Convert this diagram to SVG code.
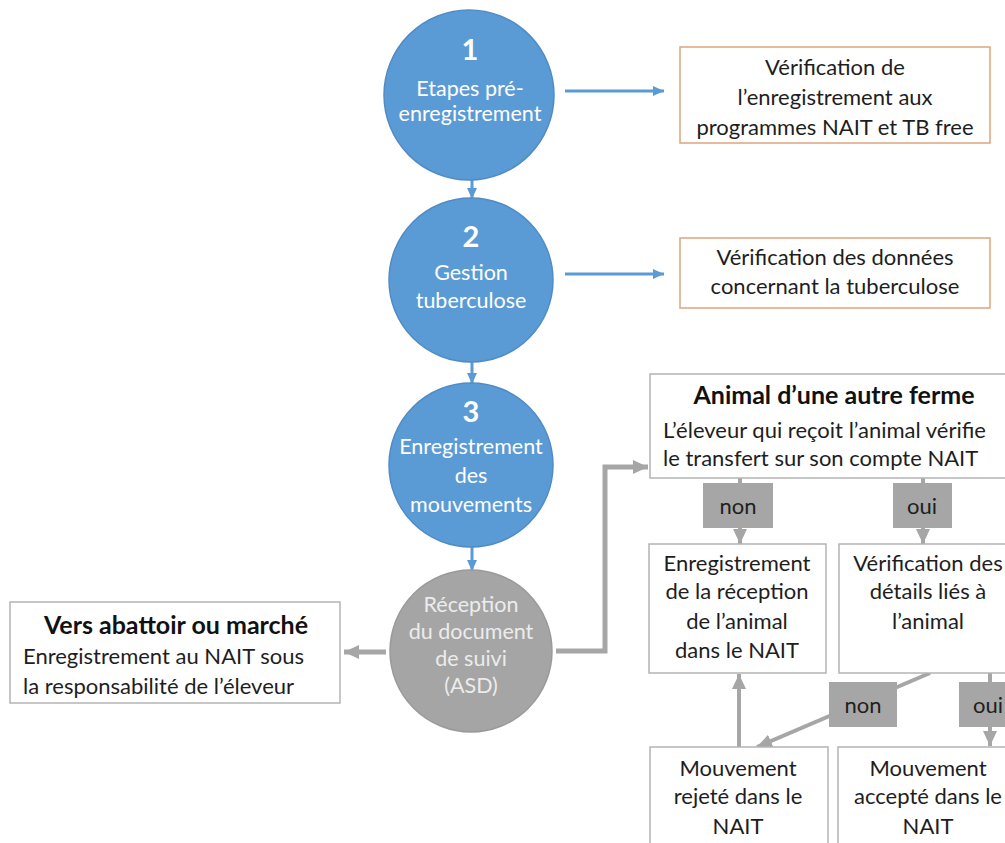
<svg xmlns="http://www.w3.org/2000/svg" width="1005" height="843" viewBox="0 0 1005 843">
  <defs>
    <marker id="blueHead" markerUnits="userSpaceOnUse" markerWidth="12" markerHeight="12" viewBox="0 0 12 12" refX="11" refY="6" orient="auto">
      <path d="M0,1 L11,6 L0,11 Z" fill="#5b9bd5"/>
    </marker>
    <marker id="grayHead" markerUnits="userSpaceOnUse" markerWidth="16" markerHeight="16" viewBox="0 0 16 16" refX="15" refY="8" orient="auto">
      <path d="M0,1 L15,8 L0,15 Z" fill="#a6a6a6"/>
    </marker>
    <style>
      text { font-family: Lato, "Liberation Sans", sans-serif; }
      .step { fill: #5b9bd5; stroke: #4f8cc6; stroke-width: 1.5; }
      .stepGray { fill: #a5a5a5; stroke: #9a9a9a; stroke-width: 1.5; }
      .num { fill: #ffffff; font-size: 29px; font-weight: bold; text-anchor: middle; }
      .ct { fill: #ffffff; font-size: 21.5px; text-anchor: middle; }
      .ctg { fill: #ececec; font-size: 21.5px; text-anchor: middle; }
      .obox { fill: #ffffff; stroke: #dea57c; stroke-width: 1.5; }
      .gbox { fill: #ffffff; stroke: #b4b4b4; stroke-width: 1.5; }
      .t { fill: #1e1e1e; font-size: 22px; }
      .tc { fill: #1e1e1e; font-size: 22px; text-anchor: middle; }
      .tb { fill: #111111; font-size: 25px; font-weight: bold; text-anchor: middle; }
      .lab { fill: #a6a6a6; }
      .labt { fill: #1e1e1e; font-size: 22px; text-anchor: middle; }
      .blue { stroke: #5b9bd5; stroke-width: 3; fill: none; }
      .gray { stroke: #a6a6a6; stroke-width: 4; fill: none; }
      .grayW { stroke: #a6a6a6; stroke-width: 5; fill: none; }
    </style>
  </defs>

  <!-- connectors -->
  <g id="connectors">
    <line class="blue" x1="472" y1="178" x2="472" y2="199" marker-end="url(#blueHead)"/>
    <line class="blue" x1="472" y1="362" x2="472" y2="384" marker-end="url(#blueHead)"/>
    <line class="blue" x1="472" y1="547" x2="472" y2="571" marker-end="url(#blueHead)"/>
    <line class="blue" x1="565" y1="91" x2="664" y2="91" marker-end="url(#blueHead)"/>
    <line class="blue" x1="565" y1="274" x2="664" y2="274" marker-end="url(#blueHead)"/>
    <line class="grayW" x1="386" y1="652" x2="344" y2="652" marker-end="url(#grayHead)"/>
    <polyline class="grayW" points="556,651 605,651 605,467 648,467" marker-end="url(#grayHead)"/>
    <line class="gray" x1="740" y1="478" x2="740" y2="544" marker-end="url(#grayHead)"/>
    <line class="gray" x1="923" y1="478" x2="923" y2="544" marker-end="url(#grayHead)"/>
    <line class="gray" x1="739" y1="747" x2="739" y2="674" marker-end="url(#grayHead)"/>
    <line class="gray" x1="930" y1="673" x2="757" y2="747" marker-end="url(#grayHead)"/>
    <line class="gray" x1="990" y1="673" x2="990" y2="746" marker-end="url(#grayHead)"/>
  </g>

  <!-- step 1 -->
  <g id="step1">
    <circle class="step" cx="469" cy="95" r="85"/>
    <text class="num" x="470" y="60">1</text>
    <text class="ct" x="470" y="96">Etapes pré-</text>
    <text class="ct" x="470" y="121">enregistrement</text>
  </g>

  <!-- step 2 -->
  <g id="step2">
    <circle class="step" cx="471" cy="280" r="82"/>
    <text class="num" x="471" y="247">2</text>
    <text class="ct" x="471" y="280">Gestion</text>
    <text class="ct" x="471" y="308">tuberculose</text>
  </g>

  <!-- step 3 -->
  <g id="step3">
    <circle class="step" cx="471" cy="465" r="82"/>
    <text class="num" x="471" y="422">3</text>
    <text class="ct" x="471" y="454">Enregistrement</text>
    <text class="ct" x="471" y="483">des</text>
    <text class="ct" x="471" y="512">mouvements</text>
  </g>

  <!-- step 4: document received -->
  <g id="reception">
    <circle class="stepGray" cx="471" cy="651" r="81"/>
    <text class="ctg" x="471" y="612">Réception</text>
    <text class="ctg" x="471" y="639">du document</text>
    <text class="ctg" x="471" y="666">de suivi</text>
    <text class="ctg" x="471" y="693">(ASD)</text>
  </g>

  <!-- check boxes -->
  <g id="checkRegistration">
    <rect class="obox" x="680" y="47" width="310" height="96"/>
    <text class="tc" x="835" y="75">Vérification de</text>
    <text class="tc" x="835" y="105">l’enregistrement aux</text>
    <text class="tc" x="835" y="135">programmes NAIT et TB free</text>
  </g>
  <g id="checkTB">
    <rect class="obox" x="680" y="238" width="310" height="70"/>
    <text class="tc" x="835" y="265">Vérification des données</text>
    <text class="tc" x="835" y="294">concernant la tuberculose</text>
  </g>

  <!-- slaughter / market -->
  <g id="slaughter">
    <rect class="gbox" x="10" y="602" width="330" height="101"/>
    <text class="tb" x="176" y="634">Vers abattoir ou marché</text>
    <text class="t" x="23" y="664">Enregistrement au NAIT sous</text>
    <text class="t" x="23" y="694">la responsabilité de l’éleveur</text>
  </g>

  <!-- other farm -->
  <g id="otherFarm">
    <rect class="gbox" x="650" y="374" width="370" height="104"/>
    <text class="tb" x="834" y="404">Animal d’une autre ferme</text>
    <text class="t" x="663" y="438">L’éleveur qui reçoit l’animal vérifie</text>
    <text class="t" x="663" y="466">le transfert sur son compte NAIT</text>
  </g>

  <g id="labelNon1">
    <rect class="lab" x="703" y="483" width="70" height="45"/>
    <text class="labt" x="738" y="514">non</text>
  </g>
  <g id="labelOui1">
    <rect class="lab" x="893" y="483" width="59" height="45"/>
    <text class="labt" x="922" y="514">oui</text>
  </g>

  <g id="recordReception">
    <rect class="gbox" x="649" y="544" width="177" height="129"/>
    <text class="tc" x="737" y="571">Enregistrement</text>
    <text class="tc" x="737" y="599">de la réception</text>
    <text class="tc" x="737" y="629">de l’animal</text>
    <text class="tc" x="737" y="658">dans le NAIT</text>
  </g>
  <g id="checkDetails">
    <rect class="gbox" x="839" y="544" width="180" height="129"/>
    <text class="tc" x="928" y="571">Vérification des</text>
    <text class="tc" x="928" y="599">détails liés à</text>
    <text class="tc" x="928" y="629">l’animal</text>
  </g>

  <g id="labelNon2">
    <rect class="lab" x="829" y="682" width="68" height="45"/>
    <text class="labt" x="863" y="713">non</text>
  </g>
  <g id="labelOui2">
    <rect class="lab" x="959" y="682" width="59" height="45"/>
    <text class="labt" x="988" y="713">oui</text>
  </g>

  <g id="moveRejected">
    <rect class="gbox" x="650" y="747" width="178" height="110"/>
    <text class="tc" x="738" y="776">Mouvement</text>
    <text class="tc" x="738" y="804">rejeté dans le</text>
    <text class="tc" x="738" y="834">NAIT</text>
  </g>
  <g id="moveAccepted">
    <rect class="gbox" x="838" y="747" width="180" height="110"/>
    <text class="tc" x="928" y="776">Mouvement</text>
    <text class="tc" x="928" y="804">accepté dans le</text>
    <text class="tc" x="928" y="834">NAIT</text>
  </g>
</svg>
